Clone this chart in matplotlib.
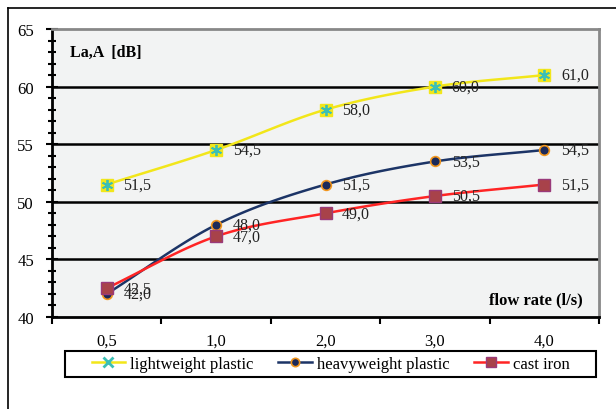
import numpy as np
import matplotlib.pyplot as plt
from matplotlib.lines import Line2D
from matplotlib.patches import Rectangle
from matplotlib.ticker import MultipleLocator

# flow rate categories and A-weighted sound levels
flow_rates = ['0,5', '1,0', '2,0', '3,0', '4,0']
lightweight = [51.5, 54.5, 58.0, 60.0, 61.0]
heavyweight = [42.0, 48.0, 51.5, 53.5, 54.5]
cast_iron = [42.5, 47.0, 49.0, 50.5, 51.5]


def smooth(y, n=30):
    # Catmull-Rom spline through the points, like a spreadsheet smoothed line
    y = np.asarray(y, float)
    x = np.arange(len(y), dtype=float)
    px = np.concatenate([[2 * x[0] - x[1]], x, [2 * x[-1] - x[-2]]])
    py = np.concatenate([[2 * y[0] - y[1]], y, [2 * y[-1] - y[-2]]])
    xs, ys = [], []
    for i in range(1, len(px) - 2):
        t = np.linspace(0, 1, n)
        for p, out in ((px, xs), (py, ys)):
            p0, p1, p2, p3 = p[i - 1], p[i], p[i + 1], p[i + 2]
            out.extend(0.5 * ((2 * p1) + (-p0 + p2) * t
                              + (2 * p0 - 5 * p1 + 4 * p2 - p3) * t ** 2
                              + (-p0 + 3 * p1 - 3 * p2 + p3) * t ** 3))
    return np.array(xs), np.array(ys)


plt.rcParams['font.family'] = 'Liberation Serif'

fig = plt.figure(figsize=(6.16, 4.10), dpi=100)
ax = fig.add_axes([52 / 616, 92 / 410, 547 / 616, 288 / 410])
ax.set_facecolor('#f2f3f3')

# outer frame (top and left edges)
fig.add_artist(Line2D([8 / 616, 1], [1 - 9 / 410] * 2, color='black', lw=1.2, transform=fig.transFigure))
fig.add_artist(Line2D([8 / 616] * 2, [0, 1 - 9 / 410], color='black', lw=1.2, transform=fig.transFigure))

x = np.arange(len(flow_rates))

series = [
    (lightweight, '#f2e61a', 'lightweight plastic'),
    (heavyweight, '#1c3466', 'heavyweight plastic'),
    (cast_iron, '#ff2424', 'cast iron'),
]
for vals, col, name in series:
    sx, sy = smooth(vals)
    ax.plot(sx, sy, color=col, lw=1.8, zorder=3)

# markers
ax.plot(x, lightweight, 's', ms=8, color='#f2e61a', zorder=4)
ax.plot(x, lightweight, marker=(6, 2, 0), ms=8, ls='none', mec='#3cbfb4', mew=1.3, zorder=5)
ax.plot(x, heavyweight, 'o', ms=7, mfc='#1c2a5a', mec='#f2961e', mew=1.2, zorder=4)
ax.plot(x, cast_iron, 's', ms=8, mfc='#a8424a', mec='#9a3a7a', mew=1, zorder=4)

# data labels
for vals in (lightweight, heavyweight, cast_iron):
    for xi, v in zip(x, vals):
        ax.annotate(f'{v:.1f}'.replace('.', ','), (xi, v), xytext=(12, 0),
                    textcoords='offset points', va='center', ha='left',
                    fontsize=11.5, color='#222222', zorder=6)

ax.set_xlim(-0.5, len(flow_rates) - 0.5)
ax.set_ylim(40, 65)
ax.set_yticks([40, 45, 50, 55, 60, 65])
ax.yaxis.set_minor_locator(MultipleLocator(1))
ax.set_xticks(x)
ax.set_xticklabels(flow_rates)
ax.set_xticks(np.arange(-0.5, len(flow_rates)), minor=True)
ax.tick_params(axis='x', which='major', length=0, pad=11, labelsize=12)
ax.tick_params(axis='x', which='minor', length=5, width=1.5, direction='out')
ax.tick_params(axis='y', which='major', length=8, width=1.5, direction='inout', labelsize=12, pad=9)
ax.tick_params(axis='y', which='minor', length=6, width=1.5, direction='inout')

for v in (45, 50, 55, 60):
    ax.axhline(v, color='black', lw=1.8, zorder=1)

ax.spines['left'].set_linewidth(2)
ax.spines['bottom'].set_linewidth(2)
ax.spines['top'].set_color('#888888')
ax.spines['top'].set_linewidth(2)
ax.spines['right'].set_color('#888888')
ax.spines['right'].set_linewidth(2)

ax.text(0.033, 0.95, 'La,A  [dB]', transform=ax.transAxes, fontsize=11.5,
        fontweight='bold', va='top', ha='left')
ax.text(0.97, 0.06, 'flow rate (l/s)', transform=ax.transAxes, fontsize=12,
        fontweight='bold', va='center', ha='right')

# legend box spans nearly the full plot width
box = (65 / 616, 32 / 410, 531 / 616, 26 / 410)
fig.add_artist(Rectangle(box[:2], box[2], box[3], transform=fig.transFigure,
                         facecolor='white', edgecolor='black', lw=1.5, zorder=2))

handles = [
    Line2D([], [], color='#f2e61a', lw=1.8, marker='x', ms=7, mec='#3cbfb4', mew=2),
    Line2D([], [], color='#1c3466', lw=1.8, marker='o', ms=6, mfc='#1c2a5a', mec='#f2961e', mew=1.2),
    Line2D([], [], color='#ff2424', lw=1.8, marker='s', ms=7, mfc='#a8424a', mec='#9a3a7a'),
]
leg = fig.legend(handles, [s[2] for s in series], ncol=3,
                 bbox_to_anchor=box, loc='center', fontsize=12, frameon=False,
                 handlelength=2.0, borderaxespad=0, borderpad=0.25,
                 columnspacing=1.5, handletextpad=0.3)
leg.set_zorder(3)

fig.savefig('out.png', dpi=100)
